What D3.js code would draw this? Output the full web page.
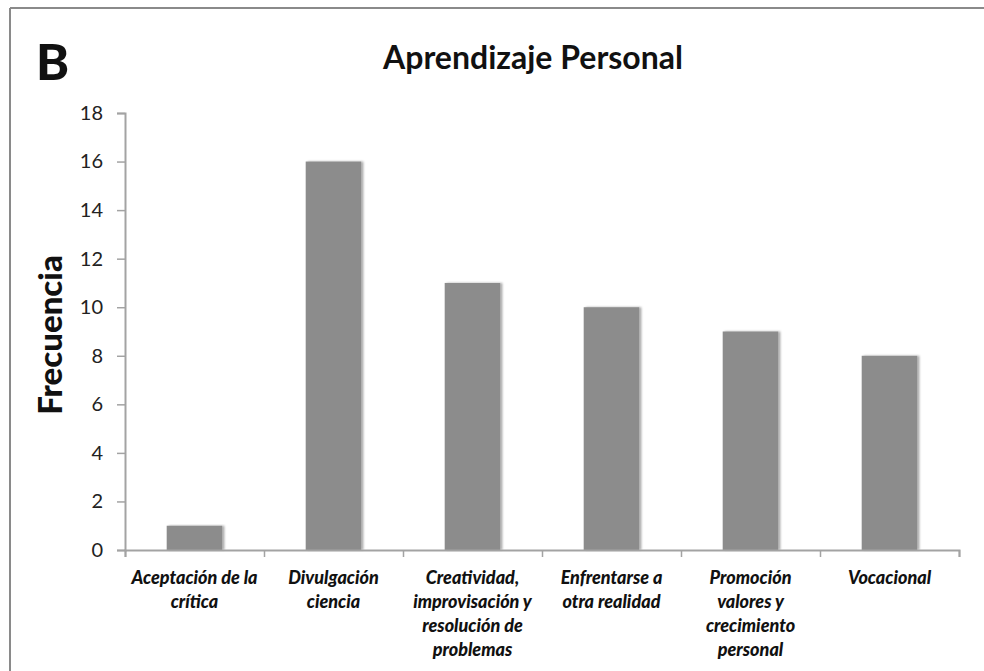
<!DOCTYPE html>
<html>
<head>
<meta charset="utf-8">
<script src="https://cdn.jsdelivr.net/npm/d3@7"></script>
<style>
  html, body { margin: 0; padding: 0; background: #fff; }
  svg { display: block; }
</style>
</head>
<body>
<svg id="chart" width="984" height="671"></svg>
<script>
// ---- data ----
const categories = [
  ["Aceptación de la", "crítica"],
  ["Divulgación", "ciencia"],
  ["Creatividad,", "improvisación y", "resolución de", "problemas"],
  ["Enfrentarse a", "otra realidad"],
  ["Promoción", "valores y", "crecimiento", "personal"],
  ["Vocacional"]
];
const values = [1, 16, 11, 10, 9, 8];
const yTicks = [0, 2, 4, 6, 8, 10, 12, 14, 16, 18];
const title = "Aprendizaje Personal";
const panelLetter = "B";
const yLabel = "Frecuencia";

(function () {
// ---- layout ----
const W = 984, H = 671;
const mLeft = 125, mRight = 959, mTop = 113, mBottom = 550;
const font = "Lato, 'Open Sans', sans-serif";
const axisColor = "#a3a3a3";

const svg = d3.select("#chart");

const defs = svg.append("defs");
const f = defs.append("filter").attr("id", "sh").attr("x", "-20%").attr("y", "-5%").attr("width", "140%").attr("height", "110%");
f.append("feDropShadow").attr("dx", 2).attr("dy", 0).attr("stdDeviation", 1.2)
  .attr("flood-color", "#000").attr("flood-opacity", 0.35);

// frame
svg.append("line").attr("x1", 10).attr("x2", W).attr("y1", 8).attr("y2", 8)
  .attr("stroke", "#8a8a8a").attr("stroke-width", 2);
svg.append("line").attr("x1", 10).attr("x2", 10).attr("y1", 8).attr("y2", H)
  .attr("stroke", "#8a8a8a").attr("stroke-width", 2);

const xb = d3.scaleBand().domain(d3.range(categories.length)).range([mLeft, mRight]).padding(0);
const barW = xb.bandwidth() * 0.4;
const y = d3.scaleLinear().domain([0, 18]).range([mBottom, mTop]);

// bars
svg.append("g").selectAll("rect").data(values).join("rect")
  .attr("x", (d, i) => xb(i) + xb.bandwidth() / 2 - barW / 2)
  .attr("width", barW)
  .attr("y", d => y(d))
  .attr("height", d => y(0) - y(d))
  .attr("fill", "#8c8c8c")
  .attr("filter", "url(#sh)");

// y axis
const yAxis = svg.append("g").attr("transform", `translate(${mLeft},0)`)
  .call(d3.axisLeft(y).tickValues(yTicks).tickSize(8).tickPadding(6));
yAxis.select(".domain").attr("stroke", axisColor).attr("stroke-width", 2);
yAxis.selectAll(".tick line").attr("stroke", axisColor).attr("stroke-width", 1.5);
yAxis.selectAll(".tick text").attr("font-family", font).attr("font-size", 20)
  .attr("fill", "#222").attr("x", -22);

// x axis
const xAxis = svg.append("g").attr("transform", `translate(0,${mBottom})`)
  .call(d3.axisBottom(d3.scaleLinear().domain([0, categories.length]).range([mLeft, mRight]))
    .tickValues(d3.range(0, categories.length + 1)).tickSize(7).tickFormat(""));
xAxis.select(".domain").attr("stroke", axisColor).attr("stroke-width", 2);
xAxis.selectAll(".tick line").attr("stroke", axisColor).attr("stroke-width", 1.5);

// category labels
const lab = svg.append("g");
categories.forEach((lines, i) => {
  const cx = xb(i) + xb.bandwidth() / 2;
  const t = lab.append("text")
    .attr("x", cx)
    .attr("y", 584)
    .attr("text-anchor", "middle")
    .attr("font-family", font).attr("font-size", 18)
    .attr("font-weight", "900").attr("font-style", "italic")
    .attr("fill", "#111");
  lines.forEach((ln, j) => {
    t.append("tspan").attr("x", cx).attr("dy", j === 0 ? 0 : 24).text(ln);
  });
});

// title
svg.append("text").attr("x", 533).attr("y", 69).attr("text-anchor", "middle")
  .attr("font-family", font).attr("font-size", 32).attr("font-weight", "bold")
  .attr("fill", "#111").text(title);

// panel letter
svg.append("text").attr("x", 36).attr("y", 80)
  .attr("font-family", font).attr("font-size", 50).attr("font-weight", "900")
  .attr("fill", "#111").text(panelLetter);

// y label
svg.append("text").attr("transform", "translate(62,335) rotate(-90)")
  .attr("text-anchor", "middle")
  .attr("font-family", font).attr("font-size", 33).attr("font-weight", "900")
  .attr("fill", "#111").text(yLabel);
})();
</script>
</body>
</html>
